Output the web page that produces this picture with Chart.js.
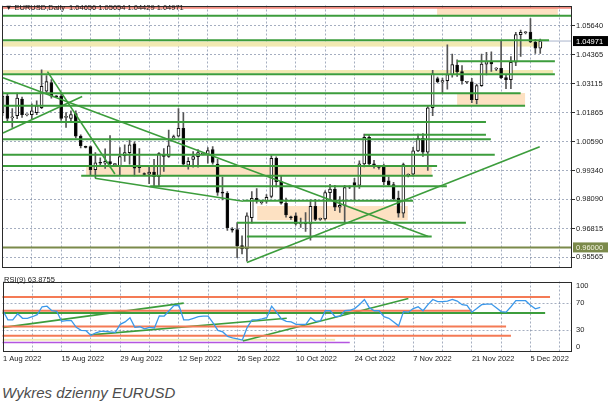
<!DOCTYPE html>
<html>
<head>
<meta charset="utf-8">
<title>Wykres dzienny EURUSD</title>
<script src="https://cdn.jsdelivr.net/npm/chart.js@4.4.0/dist/chart.umd.min.js"></script>
<style>
  body { margin: 0; background: #fff; }
  #wrap { position: relative; width: 608px; height: 406px; overflow: hidden; }
  #mainChart { position: absolute; left: 0; top: 0; }
  #rsiChart { position: absolute; left: 0; top: 273px; }
  #caption { position: absolute; left: 2px; top: 384px; font: italic 15px/17px "Liberation Sans", Arial, sans-serif; color: #4d4d4d; }
</style>
</head>
<body>
<div id="wrap">
  <canvas id="mainChart" width="608" height="273"></canvas>
  <canvas id="rsiChart" width="608" height="95"></canvas>
  <div id="caption">Wykres dzienny EURUSD</div>
</div>
<script>
// Bougies journalieres EURUSD, 1 Aug 2022 -> 7 Dec 2022 (avec les barres du dimanche)
const opens = [1.0186,1.0258,1.0163,1.0173,1.0245,1.0176,1.0177,1.0186,1.0207,1.0279,
  1.0317,1.0256,1.0258,1.0165,1.0161,1.0182,1.0084,1.0037,1.0038,0.9938,
  0.9968,0.9966,0.9973,0.9960,0.9953,0.9999,1.0012,1.0050,0.9947,0.9920,
  0.9918,0.9928,0.9907,1.0004,0.9996,1.0075,1.0084,1.0118,0.9957,0.9983,
  0.9995,1.0006,1.0004,1.0025,0.9962,0.9838,0.9835,0.9680,0.9678,0.9608,
  0.9593,0.9729,0.9813,0.9795,0.9801,0.9822,0.9987,0.9886,0.9792,0.9730,
  0.9737,0.9702,0.9706,0.9702,0.9779,0.9722,0.9724,0.9838,0.9854,0.9775,
  0.9783,0.9862,0.9882,0.9870,0.9963,1.0078,0.9963,0.9950,0.9949,0.9889,
  0.9873,0.9815,0.9749,0.9912,0.9918,1.0020,1.0074,1.0014,1.0207,1.0334,
  1.0318,1.0325,1.0351,1.0393,1.0364,1.0318,1.0320,1.0242,1.0303,1.0397,
  1.0408,1.0375,1.0378,1.0338,1.0329,1.0405,1.0525,1.0533,1.0536,1.0493,1.04656];
const highs = [1.0279,1.0266,1.0203,1.0271,1.0254,1.0180,1.0224,1.0237,1.0372,1.0347,
  1.0330,1.0260,1.0266,1.0186,1.0194,1.0194,1.0089,1.0041,1.0042,1.0012,
  0.9989,1.0029,1.0086,0.9965,1.0034,1.0046,1.0067,1.0059,1.0030,0.9924,
  0.9949,0.9983,1.0012,1.0030,1.0110,1.0088,1.0203,1.0186,0.9991,1.0017,
  1.0025,1.0012,1.0034,1.0038,0.9983,0.9906,0.9843,0.9686,0.9708,0.9650,
  0.9750,0.9843,0.9856,0.9800,0.9830,0.9999,0.9994,0.9910,0.9815,0.9736,
  0.9750,0.9727,0.9751,0.9807,0.9809,0.9728,0.9846,0.9874,0.9870,0.9821,
  0.9870,0.9868,0.9900,0.9976,1.0093,1.0089,0.9979,0.9955,0.9962,0.9907,
  0.9883,0.9845,0.9967,0.9920,1.0035,1.0093,1.0095,1.0216,1.0370,1.0340,
  1.0336,1.0481,1.0440,1.0415,1.0390,1.0322,1.0335,1.0310,1.0440,1.0448,
  1.0450,1.0382,1.0497,1.0350,1.0430,1.0535,1.0545,1.0538,1.0595,1.0505,1.05054];
const lows = [1.0173,1.0144,1.0122,1.0160,1.0165,1.0172,1.0160,1.0177,1.0203,1.0271,
  1.0249,1.0252,1.0152,1.0122,1.0148,1.0076,1.0033,1.0033,0.9913,0.9903,
  0.9951,0.9943,0.9950,0.9955,0.9911,0.9974,0.9962,0.9911,0.9926,0.9914,
  0.9877,0.9868,0.9864,0.9930,0.9991,1.0070,1.0080,0.9953,0.9940,0.9949,
  0.9949,1.0002,0.9966,0.9962,0.9826,0.9807,0.9674,0.9666,0.9555,0.9572,
  0.9540,0.9705,0.9792,0.9788,0.9792,0.9815,0.9863,0.9788,0.9731,0.9722,
  0.9697,0.9687,0.9669,0.9632,0.9716,0.9717,0.9718,0.9810,0.9760,0.9752,
  0.9705,0.9855,0.9808,0.9856,0.9950,0.9953,0.9945,0.9940,0.9873,0.9868,
  0.9805,0.9731,0.9730,0.9906,0.9910,1.0016,0.9996,0.9935,1.0173,1.0315,
  1.0270,1.0288,1.0340,1.0343,1.0310,1.0312,1.0229,1.0224,1.0300,1.0350,
  1.0365,1.0368,1.0333,1.0290,1.0290,1.0390,1.0430,1.0528,1.0490,1.0443,1.04429];
const closes = [1.0258,1.0161,1.0166,1.0249,1.0177,1.0178,1.0194,1.0216,1.0300,1.0321,
  1.0258,1.0255,1.0161,1.0169,1.0177,1.0084,1.0042,1.0035,0.9938,0.9968,
  0.9966,0.9974,0.9964,0.9962,0.9995,1.0012,1.0046,0.9945,0.9955,0.9917,
  0.9928,0.9907,1.0008,0.9996,1.0042,1.0082,1.0118,0.9962,0.9974,0.9995,
  1.0012,1.0009,1.0021,0.9970,0.9839,0.9836,0.9686,0.9675,0.9606,0.9593,
  0.9737,0.9813,0.9802,0.9797,0.9818,0.9987,0.9886,0.9792,0.9741,0.9729,
  0.9702,0.9706,0.9702,0.9779,0.9722,0.9724,0.9838,0.9854,0.9775,0.9783,
  0.9860,0.9863,0.9870,0.9963,1.0078,0.9963,0.9957,0.9948,0.9885,0.9873,
  0.9812,0.9749,0.9960,0.9918,1.0020,1.0074,1.0014,1.0207,1.0355,1.0320,
  1.0325,1.0351,1.0395,1.0364,1.0324,1.0320,1.0242,1.0303,1.0397,1.0408,
  1.0398,1.0378,1.0338,1.0329,1.0405,1.0525,1.0535,1.0536,1.0493,1.0466,1.04971];

const rsiValues = [58.8,45.5,45.5,54.4,47.7,47.7,50,53,64.6,65.5,
  58.8,58,43.3,44.2,44.2,34.4,30,29.5,22.4,26.4,
  28.6,28.6,27.7,27,38.8,42.4,48.6,34.4,35.3,32.2,
  34.4,33.5,51.3,51,58.8,66.4,66.8,45.5,45.5,47.7,
  50,51,51,41,30,27.7,21,18.8,17.5,15.7,
  34.4,45.5,45.5,46.8,48.6,65.5,56.7,46.8,43.3,42.4,
  38.8,38.8,38.8,48.6,43.3,44,58.8,58.8,50,51,
  58.8,59.5,62,68,75.3,63.3,58.8,58.8,50,47.7,
  42.4,36.6,57.5,56.7,62,64.6,58.8,67.7,75.3,72.1,
  72.1,73,75.3,73,67.7,66.8,56.7,62,67.7,68.6,
  68.6,63.3,57.5,56.7,64.6,73.5,73.5,73.5,66.8,61.5,63.8755];

// Axes
const dateLabels = ['1 Aug 2022','15 Aug 2022','29 Aug 2022','12 Sep 2022','26 Sep 2022',
  '10 Oct 2022','24 Oct 2022','7 Nov 2022','21 Nov 2022','5 Dec 2022'];
const dateBars = [0,12,24,36,48,60,72,84,96,108];
const weekBars = [0,6,12,18,24,30,36,42,48,54,60,66,72,78,84,90,96,102,108,114];
const priceTicks = [1.05640,1.04365,1.03115,1.01865,1.00590,0.99340,0.98090,0.96815,0.95565];
const rsiTicks = [0,30,70,100];

// Niveaux horizontaux (prix, debut, fin en barres)
const hLevels = [1.0607,1.0501,1.0409,1.0353,1.0270,1.0216,1.0145,1.0090,1.0070,1.0003,0.9954,0.9912,0.9866,0.9803,0.9707,0.9647];
const hFrom =   [-1,-1,93,-1,-1,-1,-1,74.1,-1,-1,-1,16.1,30.2,49.2,48,50];
const hTo =     [117,111.8,113,113,106,106.9,98.9,98.9,99.9,100.7,88.9,88,90.9,84,94.8,87.8];
const redLevel = 1.0641;
const oliveLevel = 0.9600;

// Lignes de tendance [barre, prix]
const trendStart = [[0.1,1.0338],[9.2,1.0364],[0.1,1.0097],[18.9,0.9901],[50,0.9534]];
const trendEnd =   [[87.1,0.9647],[23,0.9919],[16.3,1.0256],[49.2,0.9801],[109.9,1.0038]];

// Zones (rectangles)
const zoneFrom =   [88.9,-1,-1,93,17.1,52.1];
const zoneTo =     [113.6,110.5,112.6,106.9,87.8,82.9];
const zoneTop =    [1.0639,1.0495,1.0371,1.0271,0.9953,0.9780];
const zoneBottom = [1.0609,1.0473,1.0357,1.0216,0.9911,0.9718];
const zoneKind =   ['peach','yellow','yellow','peach','peach','peach'];

// RSI : niveaux et tendances
const rsiLevels = [78.8,58.8,55.3,35.7,22,12.1];
const rsiLevelTo = [112,96,111,103,104,71];
const rsiLevelKind = ['orange','orange','green','orange','orange','purple'];
const rsiTrendStart = [[0.16,34.4],[17.9,23.3],[49.1,14.4]];
const rsiTrendEnd = [[37,70],[58.1,47.7],[83,76.7]];
const rsiZone = [68,17.5,14.8];

const green = '#3c9d3c';
const gridColor = 'rgba(105,120,150,0.6)';
const zoneColors = { peach: '#fde1c2', yellow: '#f1e9b2' };
const rsiColors = { orange: '#f47a55', green: green, purple: '#b455e0' };
const axisFont = { family: 'Liberation Sans', size: 7.5 };
const lastBar = closes.length - 1;

function seg(x0, y0, x1, y1, color, width) {
    return {
        type: 'line',
        data: [{x: x0, y: y0}, {x: x1, y: y1}],
        borderColor: color,
        borderWidth: width,
        pointRadius: 0,
        fill: false,
        order: 0
    };
}

//Plugin : zones en fond + cadre + textes
const mainDeco = {
    id: 'mainDeco',
    beforeDatasetsDraw(chart) {
        const {ctx, chartArea, scales} = chart;
        ctx.save();
        ctx.beginPath();
        ctx.rect(chartArea.left, chartArea.top, chartArea.width, chartArea.height);
        ctx.clip();
        for (let i = 0; i < zoneFrom.length; i++) {
            const x0 = scales.x.getPixelForValue(zoneFrom[i]);
            const x1 = scales.x.getPixelForValue(zoneTo[i]);
            const y0 = scales.y.getPixelForValue(zoneTop[i]);
            const y1 = scales.y.getPixelForValue(zoneBottom[i]);
            ctx.fillStyle = zoneColors[zoneKind[i]];
            ctx.fillRect(x0, y0, x1 - x0, y1 - y0);
        }
        ctx.restore();
    },
    afterDraw(chart) {
        const {ctx, chartArea, scales} = chart;
        ctx.save();
        ctx.strokeStyle = '#2b2b2b';
        ctx.lineWidth = 1;
        ctx.strokeRect(Math.round(chartArea.left) + 0.5, Math.round(chartArea.top) + 0.5,
            Math.round(chartArea.width) - 1, Math.round(chartArea.height) - 1);

        // titre
        ctx.font = '7.5px "Liberation Sans", "DejaVu Sans"';
        ctx.fillStyle = '#1a1a1a';
        ctx.textBaseline = 'middle';
        const t = '\u25BC EURUSD,Daily  ' + opens[lastBar].toFixed(5) + ' ' + highs[lastBar].toFixed(5) + ' ' +
            lows[lastBar].toFixed(5) + ' ' + closes[lastBar].toFixed(5);
        ctx.fillText(t, 5, 8);

        // etiquettes de prix sur l'axe
        const tags = [[closes[lastBar], '#000000', '#ffffff'], [oliveLevel, '#7b8a4b', '#f4f4e0']];
        tags.forEach(tag => {
            const y = scales.y.getPixelForValue(tag[0]);
            ctx.fillStyle = tag[1];
            ctx.fillRect(chartArea.right + 1, y - 5, 36, 10);
            ctx.fillStyle = tag[2];
            ctx.fillText(tag[0].toFixed(5), chartArea.right + 4, y + 0.5);
        });
        ctx.restore();
    }
};

const rsiDeco = {
    id: 'rsiDeco',
    beforeDatasetsDraw(chart) {
        const {ctx, chartArea, scales} = chart;
        const x0 = scales.x.getPixelForValue(-1);
        const x1 = scales.x.getPixelForValue(rsiZone[0]);
        const y0 = scales.y.getPixelForValue(rsiZone[1]);
        const y1 = scales.y.getPixelForValue(rsiZone[2]);
        ctx.save();
        ctx.beginPath();
        ctx.rect(chartArea.left, chartArea.top, chartArea.width, chartArea.height);
        ctx.clip();
        ctx.fillStyle = zoneColors.yellow;
        ctx.fillRect(x0, y0, x1 - x0, y1 - y0);
        ctx.restore();
    },
    afterDraw(chart) {
        const {ctx, chartArea} = chart;
        ctx.save();
        ctx.strokeStyle = '#2b2b2b';
        ctx.lineWidth = 1;
        ctx.strokeRect(Math.round(chartArea.left) + 0.5, Math.round(chartArea.top) + 0.5,
            Math.round(chartArea.width) - 1, Math.round(chartArea.height) - 1);
        ctx.font = '7.5px "Liberation Sans"';
        ctx.fillStyle = '#1a1a1a';
        ctx.textBaseline = 'middle';
        ctx.fillText('RSI(9) ' + rsiValues[lastBar].toFixed(4), 4, 7);
        ctx.restore();
    }
};

// Datasets du graphique principal
const mainSets = [];
hLevels.forEach((lv, i) => mainSets.push(seg(hFrom[i], lv, hTo[i], lv, green, 2)));
trendStart.forEach((p, i) => mainSets.push(seg(p[0], p[1], trendEnd[i][0], trendEnd[i][1], green, 1.6)));
mainSets.push(seg(-1, redLevel, 117, redLevel, '#e8321e', 1));
mainSets.push(seg(-1, oliveLevel, 117, oliveLevel, '#7b8a4b', 2));
mainSets.push(seg(lastBar, closes[lastBar], 117, closes[lastBar], '#a9b5cc', 1));

mainSets.push({
    type: 'bar',
    data: lows.map((l, i) => ({x: i, y: [l, highs[i]]})),
    backgroundColor: '#555555',
    barThickness: 1,
    grouped: false,
    order: 2
});
mainSets.push({
    type: 'bar',
    data: opens.map((o, i) => ({x: i, y: [o, closes[i]]})),
    backgroundColor: opens.map((o, i) => closes[i] >= o ? '#ffffff' : '#000000'),
    borderColor: '#111111',
    borderWidth: 1,
    borderSkipped: false,
    barThickness: 3,
    minBarLength: 1,
    grouped: false,
    order: 1
});

const xCommon = {
    type: 'linear',
    min: -0.1,
    max: 116.5,
    offset: false,
    afterBuildTicks: s => { s.ticks = weekBars.map(v => ({value: v})); },
    grid: { color: gridColor, drawTicks: false, offset: false },
    border: { display: false, dash: [2, 2] }
};

const configMain = {
    type: 'bar',
    data: { datasets: mainSets },
    options: {
        responsive: false,
        animation: false,
        events: [],
        layout: { padding: { left: 2, top: 2, right: 0, bottom: 2 } },
        plugins: { legend: { display: false }, tooltip: { enabled: false } },
        scales: {
            x: Object.assign({}, xCommon, {
                ticks: { display: false },
                afterFit: s => { s.height = 0; }
            }),
            y: {
                position: 'right',
                min: 0.95127,
                max: 1.06516,
                afterFit: s => { s.width = 36; },
                afterBuildTicks: s => { s.ticks = priceTicks.map(v => ({value: v})); },
                ticks: { font: axisFont, color: '#1a1a1a', padding: 1, callback: v => v.toFixed(5) },
                grid: { color: gridColor, tickLength: 3, tickColor: '#333333', tickBorderDash: [] },
                border: { display: false, dash: [2, 2] }
            }
        }
    },
    plugins: [mainDeco]
};

// Datasets RSI
const rsiSets = [];
rsiLevels.forEach((lv, i) => rsiSets.push(seg(-1, lv, rsiLevelTo[i], lv, rsiColors[rsiLevelKind[i]],
    rsiLevelKind[i] === 'purple' ? 1.5 : 2)));
rsiTrendStart.forEach((p, i) => rsiSets.push(seg(p[0], p[1], rsiTrendEnd[i][0], rsiTrendEnd[i][1], green, 1.6)));
rsiSets.forEach(d => { d.order = 1; });
rsiSets.push({
    type: 'line',
    data: rsiValues.map((v, i) => ({x: i, y: v})),
    borderColor: '#3b98ea',
    borderWidth: 1.3,
    pointRadius: 0,
    tension: 0,
    order: 0
});

// position des etiquettes 0 / 100 rentrees dans le panneau
const rsiLabelPos = [5.5, 30, 70, 94.5];

const configRsi = {
    type: 'line',
    data: { datasets: rsiSets },
    options: {
        responsive: false,
        animation: false,
        events: [],
        layout: { padding: { left: 2, top: 1.5, right: 0, bottom: 0 } },
        plugins: { legend: { display: false }, tooltip: { enabled: false } },
        scales: {
            x: Object.assign({}, xCommon, {
                afterFit: s => { s.height = 17; },
                ticks: {
                    font: axisFont, color: '#1a1a1a', align: 'start', autoSkip: false,
                    maxRotation: 0, padding: 3,
                    callback: v => { const k = dateBars.indexOf(v); return k >= 0 ? dateLabels[k] : ''; }
                }
            }),
            y: {
                position: 'right',
                min: -0.3,
                max: 101.7,
                afterFit: s => { s.width = 36; },
                afterBuildTicks: s => { s.ticks = rsiLabelPos.map(v => ({value: v})); },
                ticks: { font: axisFont, color: '#1a1a1a', padding: 4, callback: (v, i) => String(rsiTicks[i]) },
                grid: {
                    drawTicks: false,
                    color: c => (c.index === 1 || c.index === 2) ? gridColor : 'rgba(0,0,0,0)'
                },
                border: { display: false, dash: [2, 2] }
            }
        }
    },
    plugins: [rsiDeco]
};

const myChartMain = new Chart(document.getElementById('mainChart'), configMain);
const myChartRsi = new Chart(document.getElementById('rsiChart'), configRsi);
</script>
</body>
</html>
